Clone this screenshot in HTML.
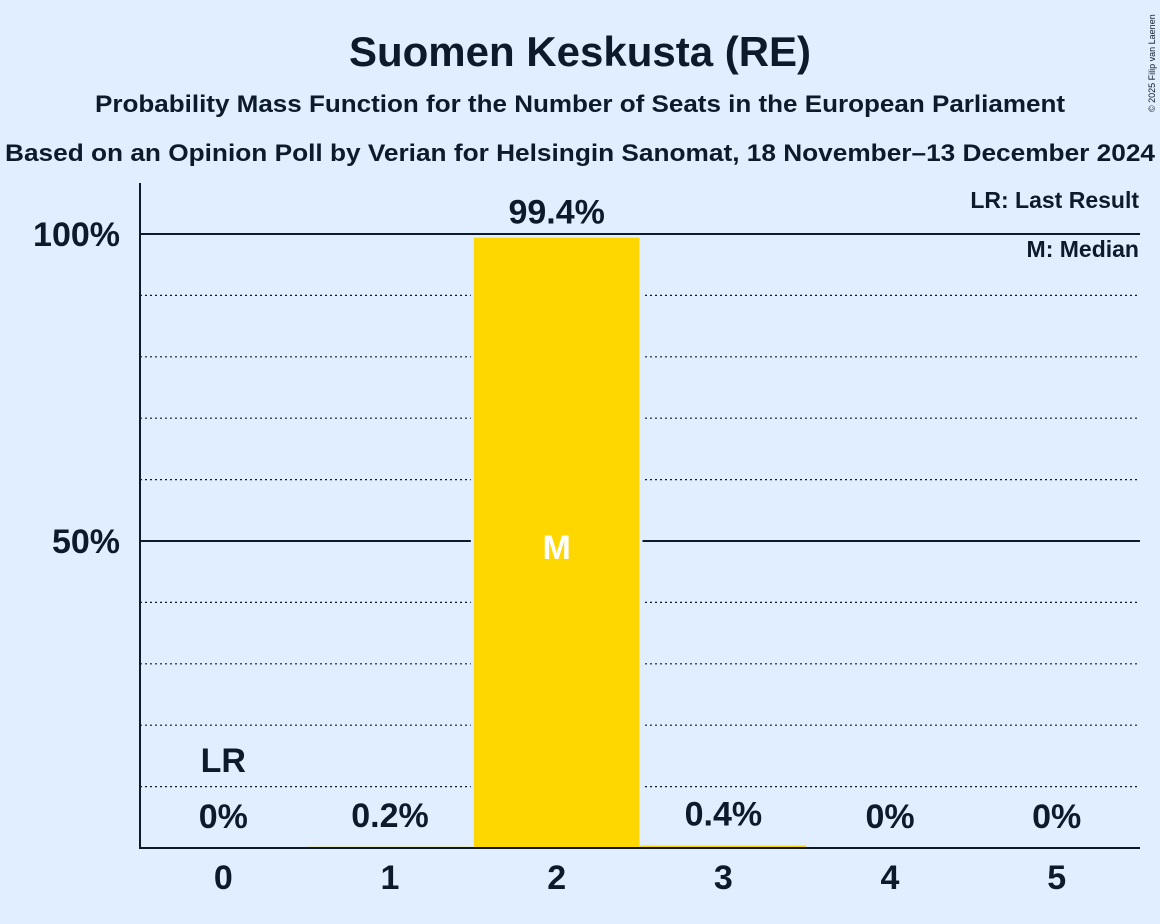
<!DOCTYPE html>
<html><head><meta charset="utf-8"><style>
body{margin:0;background:#e0eeff;}
svg{display:block;font-family:"Liberation Sans",sans-serif;}
</style></head><body>
<svg id="chart" width="1160" height="924" viewBox="0 0 1160 924">
<rect width="1160" height="924" fill="#e0eeff"/>
<text x="580" y="66" text-anchor="middle" font-size="42" font-weight="bold" fill="#0c1a2c">Suomen Keskusta (RE)</text>
<text x="580" y="112" text-anchor="middle" font-size="24" font-weight="bold" fill="#0c1a2c" textLength="970" lengthAdjust="spacingAndGlyphs">Probability Mass Function for the Number of Seats in the European Parliament</text>
<text x="580" y="161" text-anchor="middle" font-size="24" font-weight="bold" fill="#0c1a2c" textLength="1150" lengthAdjust="spacingAndGlyphs">Based on an Opinion Poll by Verian for Helsingin Sanomat, 18 November–13 December 2024</text>
<text transform="translate(1155,112) rotate(-90)" font-size="9" fill="#0c1a2c">© 2025 Filip van Laenen</text>
<g id="grid"></g>
<g id="bars"></g>
<line x1="140" y1="183" x2="140" y2="849" stroke="#0c1a2c" stroke-width="2"/>
<line x1="139" y1="848" x2="1140" y2="848" stroke="#0c1a2c" stroke-width="2"/>
<text x="1139" y="208" text-anchor="end" font-size="23" font-weight="bold" fill="#0c1a2c">LR: Last Result</text>
<text x="1139" y="257" text-anchor="end" font-size="23" font-weight="bold" fill="#0c1a2c">M: Median</text>
</svg>
<script>
const seats=[0,1,2,3,4,5];
const probs=[0,0.2,99.4,0.4,0,0];
const labels=["0%","0.2%","99.4%","0.4%","0%","0%"];
const lastResult=0;
const median=2;
const yTicks=[50,100];
const NS="http://www.w3.org/2000/svg";
const x0=140,bw=166.67,yBase=848,yTop=234;
const X=i=>x0+i*bw;
const Y=v=>yBase-(yBase-yTop)*v/100;
function mk(t,a,p){const e=document.createElementNS(NS,t);for(const k in a)e.setAttribute(k,a[k]);p.appendChild(e);return e;}
const grid=document.getElementById('grid'),bars=document.getElementById('bars');
for(let v=10;v<=100;v+=10){
  const major=yTicks.includes(v);
  const l=mk('line',{x1:140,x2:1140,y1:Y(v),y2:Y(v),stroke:'#0c1a2c','stroke-width':major?2:1.2,'stroke-dasharray':major?'':'2,3'},grid);
  
  
  if(major){const t=mk('text',{x:120,y:Y(v)+12,'text-anchor':'end','font-size':34,'font-weight':'bold',fill:'#0c1a2c'},grid);t.textContent=v+'%';
  
  }
}
seats.forEach((s,i)=>{
  const p=probs[i],bx=X(i)+0.5,w=bw-1;
  if(p>1){const bg=mk('rect',{x:bx-3,y:Y(100)+2,width:w+6,height:yBase-Y(100)-2,fill:'#e0eeff'},bars);
    
    }
  const r=mk('rect',{x:bx,y:Y(p),width:w,height:yBase-Y(p),fill:'#ffd700'},bars);
  
  
  const cx=X(i)+bw/2;
  const ly=p>1?Y(p)-14:Y(p)-20;
  const t=mk('text',{x:cx,y:ly,'text-anchor':'middle','font-size':34,'font-weight':'bold',fill:'#0c1a2c'},bars);t.textContent=labels[i];
  
  
  const xt=mk('text',{x:cx,y:877+12,'text-anchor':'middle','font-size':34,'font-weight':'bold',fill:'#0c1a2c'},bars);xt.textContent=s;
  
  
  if(s===lastResult){const lr=mk('text',{x:cx,y:772,'text-anchor':'middle','font-size':34,'font-weight':'bold',fill:'#0c1a2c'},bars);lr.textContent='LR';
    
    }
  if(s===median){const m=mk('text',{x:cx,y:Y(50)+18,'text-anchor':'middle','font-size':34,'font-weight':'bold',fill:'#ffffff'},bars);m.textContent='M';
    
    }
});
</script>
</body></html>
